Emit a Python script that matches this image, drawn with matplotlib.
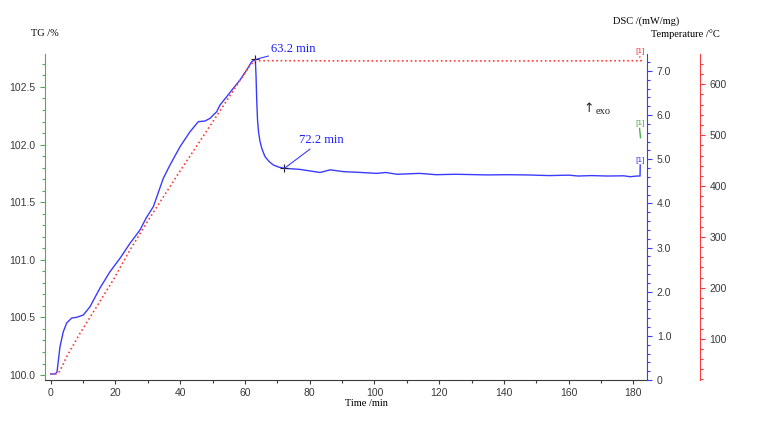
import matplotlib
matplotlib.use('Agg')
import matplotlib.pyplot as plt
from matplotlib.ticker import MultipleLocator, FixedLocator

# --- data ---
# DSC curve (blue), time in min, DSC in mW/mg
dsc_t = [0, 1.3, 1.95, 2.87, 3.89, 4.94, 6.49, 8.03, 10.07, 12.14, 15.23, 18.32,
         21.41, 24.5, 27.59, 29.44, 31.7, 34.79, 36.86, 39.95, 43.04, 45.6, 47.67,
         49.21, 51.28, 52.3, 54.37, 56.41, 58.48, 60.55, 62.09, 63.2, 63.42, 63.64,
         63.89, 64.2, 64.66, 65.28, 66.2, 67.44, 68.77, 70.53, 72.2, 77.0, 83.2, 86.3,
         90.4, 96.0, 100.7, 103.5, 107.0, 114.0, 119.0, 125.0, 135.0, 141.0, 147.0,
         154.0, 160.0, 163.0, 167.0, 172.0, 177.0, 179.0, 181.2, 182.05, 182.1]
dsc = [0.136, 0.136, 0.18, 0.754, 1.094, 1.291, 1.404, 1.42, 1.472, 1.66, 2.084, 2.453,
       2.757, 3.096, 3.398, 3.663, 3.925, 4.569, 4.87, 5.284, 5.624, 5.851, 5.866,
       5.927, 6.077, 6.229, 6.417, 6.607, 6.795, 7.021, 7.21, 7.26, 6.91, 6.34,
       5.89, 5.62, 5.40, 5.23, 5.06, 4.95, 4.87, 4.82, 4.795, 4.77, 4.70, 4.76,
       4.72, 4.70, 4.68, 4.70, 4.66, 4.68, 4.65, 4.66, 4.645, 4.65, 4.645,
       4.63, 4.64, 4.62, 4.63, 4.62, 4.625, 4.605, 4.62, 4.62, 4.87]

# Temperature program (red dotted), °C
temp_t = [0, 1.33, 2.35, 3.5, 4.94, 9.05, 14.2, 19.3, 24.5, 30.15, 40.0, 49.2, 55.4,
          61.6, 63.2, 100.0, 150.0, 182.4, 181.9]
temp = [30.6, 30.6, 32.0, 45.0, 64.6, 110.6, 162.9, 215.4, 274.3, 333.0, 430.0, 518.0,
        578.0, 638.0, 646.5, 646.0, 646.0, 646.4, 655.0]

# TG curve end (green), %
tg_t = [181.9, 182.2]
tg = [102.14, 102.06]

peak_times = [63.2, 72.2]
peak_dsc = [7.26, 4.795]
peak_labels = ['63.2 min', '72.2 min']

serif = ['Liberation Serif', 'DejaVu Serif']
sans = ['Liberation Sans', 'DejaVu Sans']

green = '#4fae4f'
blue = '#3b3bff'
red = '#ff3c3c'
gray = '#3a3a3a'

fig = plt.figure(figsize=(7.68, 4.21), dpi=100)
ax = fig.add_axes([45 / 768, 1 - 380 / 421, (647 - 45) / 768, (380 - 54) / 421])
ax2 = ax.twinx()
ax3 = ax.twinx()
ax3.spines['right'].set_position(('outward', 38))

for a in (ax, ax2, ax3):
    a.spines['top'].set_visible(False)
    a.patch.set_visible(False)
ax.spines['right'].set_visible(False)
ax2.spines['left'].set_visible(False)
ax2.spines['bottom'].set_visible(False)
ax3.spines['left'].set_visible(False)
ax3.spines['bottom'].set_visible(False)

ax.spines['left'].set_color(green)
ax.spines['bottom'].set_color(gray)
ax2.spines['right'].set_color(blue)
ax3.spines['right'].set_color(red)

# limits
ax.set_xlim(-1.76, 184.2)
ax.set_ylim(99.957, 102.786)
ax2.set_ylim(0, 7.384)
ax3.set_ylim(18.8, 659.6)

# ticks
ax.xaxis.set_major_locator(MultipleLocator(20))
ax.xaxis.set_minor_locator(MultipleLocator(10))
ax.yaxis.set_major_locator(MultipleLocator(0.5))
ax.yaxis.set_minor_locator(MultipleLocator(0.1))
ax.yaxis.set_major_formatter(matplotlib.ticker.FormatStrFormatter('%.1f'))
ax2.yaxis.set_major_locator(MultipleLocator(1.0))
ax2.yaxis.set_minor_locator(MultipleLocator(0.2))
ax2.yaxis.set_major_formatter(matplotlib.ticker.FuncFormatter(
    lambda v, p: '0' if abs(v) < 1e-9 else '%.1f' % v))
ax3.yaxis.set_major_locator(FixedLocator([100, 200, 300, 400, 500, 600]))
ax3.yaxis.set_minor_locator(MultipleLocator(20))

ax.tick_params(axis='x', which='both', colors=gray, labelsize=7.5, length=3, width=0.8, pad=3)
ax.tick_params(axis='x', which='minor', length=2)
ax.tick_params(axis='y', which='major', color=green, labelcolor=gray, labelsize=7.5, length=3.5, width=0.8)
ax.tick_params(axis='y', which='minor', color=green, length=2, width=0.8)
ax2.tick_params(axis='y', which='major', color=blue, labelcolor=gray, labelsize=7.5, length=3.5, width=0.8)
ax2.tick_params(axis='y', which='minor', color=blue, length=2, width=0.8)
ax3.tick_params(axis='y', which='major', color=red, labelcolor=gray, labelsize=7.5, length=3.5, width=0.8)
ax3.tick_params(axis='y', which='minor', color=red, length=2, width=0.8)
for a in (ax, ax2, ax3):
    for lab in a.get_xticklabels() + a.get_yticklabels():
        lab.set_family(sans)

# curves
ax3.plot(temp_t, temp, color=red, lw=1.2, linestyle=(0, (1, 1.6)), clip_on=False)
ax2.plot(dsc_t, dsc, color=blue, lw=1.0, clip_on=False)
ax.plot(tg_t, tg, color=green, lw=1.0, clip_on=False)

# peak annotations
ax2.plot(peak_times, peak_dsc, '+', color='#222222', ms=6, mew=0.8)
offsets = [(16, 4), (15, 22)]
for x, y, s, off in zip(peak_times, peak_dsc, peak_labels, offsets):
    ax2.annotate(s, xy=(x, y), xytext=off, textcoords='offset pixels',
                 color='#1a1aff', fontsize=9, family=serif, va='bottom', ha='left',
                 arrowprops=dict(arrowstyle='-', color=blue, lw=0.8,
                                 shrinkA=0, shrinkB=0))

# curve end markers
ax3.text(182.05, 665.4, '[1]', color=red, fontsize=6, family=sans, ha='center', va='center')
ax.text(182.05, 102.18, '[1]', color=green, fontsize=6, family=sans, ha='center', va='center')
ax2.text(182.05, 4.98, '[1]', color=blue, fontsize=6, family=sans, ha='center', va='center')

ax.text(0.894, 0.833, '\u2191', transform=ax.transAxes, fontsize=9,
        family=['DejaVu Sans'], color='#222222', ha='left', va='center')
ax.text(0.915, 0.823, 'exo', transform=ax.transAxes, fontsize=7.5,
        family=serif, color='#222222', ha='left', va='center')

# axis labels
fig.text(45 / 768, 1 - 33 / 421, 'TG /%', fontsize=7.5, family=serif, ha='center', va='center')
fig.text(646 / 768, 1 - 21 / 421, 'DSC /(mW/mg)', fontsize=7.5, family=serif, ha='center', va='center')
fig.text(685 / 768, 1 - 34 / 421, 'Temperature /\u00b0C', fontsize=7.5, family=serif, ha='center', va='center')
fig.text(366.7 / 768, 1 - 404 / 421, 'Time /min', fontsize=7.5, family=serif, ha='center', va='center')

fig.savefig('out.png', dpi=100)
